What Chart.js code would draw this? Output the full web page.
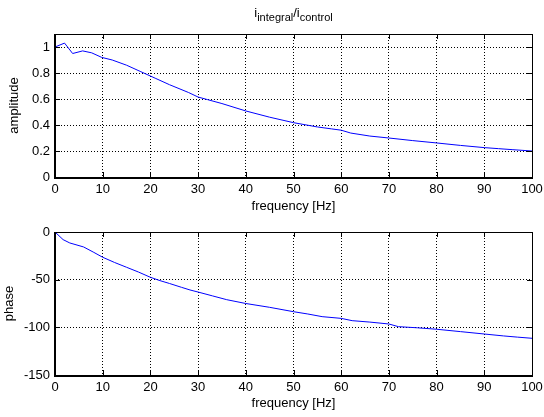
<!DOCTYPE html>
<html>
<head>
<meta charset="utf-8">
<script src="https://cdn.jsdelivr.net/npm/chart.js@4/dist/chart.umd.min.js"></script>
<style>
  html, body { margin: 0; padding: 0; background: #fff; }
  #wrap { position: relative; width: 544px; height: 417px; font-family: "Liberation Sans", Arial, sans-serif; }
  #title { position: absolute; left: 55px; width: 477px; top: 5px; text-align: center; font-size: 13px; line-height: 15px; color: #000; }
  #title sub { font-size: 11px; vertical-align: -4px; line-height: 0; }
  #ampCanvas { position: absolute; left: 0; top: 0; }
  #phaseCanvas { position: absolute; left: 0; top: 214px; }
</style>
</head>
<body>
<div id="wrap">
  <canvas id="ampCanvas" width="544" height="214"></canvas>
  <canvas id="phaseCanvas" width="544" height="203"></canvas>
  <div id="title">i<sub>integral</sub>/i<sub>control</sub></div>
</div>
<script>
// frequency axis ticks
const freqTicks = [0, 10, 20, 30, 40, 50, 60, 70, 80, 90, 100];

// amplitude trace
const ampFreq = [0, 2, 3.7, 5.8, 7.7, 9.8, 12, 15, 18, 21, 24, 26, 28, 30, 32, 35, 40, 45, 50, 55, 58, 60, 62, 66, 70, 75, 80, 85, 90, 93, 96, 100];
const ampValues = [1.0, 1.03, 0.95, 0.97, 0.955, 0.92, 0.90, 0.86, 0.81, 0.76, 0.71, 0.68, 0.65, 0.615, 0.595, 0.565, 0.508, 0.46, 0.418, 0.385, 0.37, 0.36, 0.338, 0.315, 0.30, 0.28, 0.262, 0.243, 0.226, 0.218, 0.21, 0.2];
const ampTicks = [0, 0.2, 0.4, 0.6, 0.8, 1];

// phase trace
const phaseFreq = [0, 1.7, 3.1, 6, 8, 10, 12.5, 15, 17.5, 20, 22, 24, 26.5, 28.3, 30, 33, 36, 40, 45, 50, 53, 56, 60, 62.3, 66, 70, 72, 76, 80, 85, 90, 94, 97, 100];
const phaseValues = [0, -8, -11.5, -15.7, -21, -26.5, -32, -37, -42, -47.5, -51, -54, -58, -60.8, -63, -67, -71, -75, -79, -83.6, -86, -88.8, -90.6, -93, -94.5, -96.5, -99.3, -100.5, -102, -104.5, -107, -109, -110.3, -111.5];
const phaseTicks = [-150, -100, -50, 0];

const fontFamily = '"Liberation Sans", Arial, sans-serif';

// matlab style box with inward tick marks
const boxPlugin = {
  id: 'box',
  afterDraw(chart) {
    const { ctx, chartArea: a, scales } = chart;
    ctx.save();
    ctx.setLineDash([]);
    ctx.strokeStyle = '#000';
    ctx.lineWidth = 1;
    ctx.beginPath();
    scales.x.ticks.forEach(t => {
      const px = Math.round(scales.x.getPixelForValue(t.value)) + 0.5;
      ctx.moveTo(px, a.bottom); ctx.lineTo(px, a.bottom - 5);
      ctx.moveTo(px, a.top); ctx.lineTo(px, a.top + 5);
    });
    scales.y.ticks.forEach(t => {
      const py = Math.round(scales.y.getPixelForValue(t.value)) + 0.5;
      ctx.moveTo(a.left, py); ctx.lineTo(a.left + 5, py);
      ctx.moveTo(a.right, py); ctx.lineTo(a.right - 5, py);
    });
    ctx.stroke();
    ctx.strokeRect(Math.round(a.left) + 0.5, Math.round(a.top) + 0.5, Math.round(a.width), Math.round(a.height));
    ctx.lineWidth = 2;
    ctx.beginPath();
    ctx.moveTo(Math.round(a.left), Math.round(a.top));
    ctx.lineTo(Math.round(a.left), Math.round(a.bottom) + 1);
    ctx.lineTo(Math.round(a.right) + 1, Math.round(a.bottom) + 1);
    ctx.stroke();
    ctx.restore();
  }
};

const makeChart = (id, freq, values, yMin, yMax, yTicks, yLabel, cfg) => {
  const ctx = document.getElementById(id).getContext('2d');
  return new Chart(ctx, {
    type: 'line',
    data: {
      datasets: [{
        data: freq.map((f, i) => ({ x: f, y: values[i] })),
        borderColor: '#0000ff',
        borderWidth: 1,
        pointRadius: 0,
        tension: 0,
        fill: false
      }]
    },
    options: {
      responsive: false,
      animation: false,
      layout: { padding: { top: cfg.padTop, right: 12, left: 0, bottom: 0 } },
      plugins: { legend: { display: false }, tooltip: { enabled: false } },
      scales: {
        x: {
          type: 'linear',
          min: 0,
          max: 100,
          afterBuildTicks: s => { s.ticks = freqTicks.map(v => ({ value: v })); },
          afterFit: s => { s.height = cfg.xHeight; s.paddingLeft = 0; s.paddingRight = 0; },
          ticks: { color: '#000', font: { size: 13, family: fontFamily }, padding: 5, maxRotation: 0, autoSkip: false },
          grid: { color: '#000', drawTicks: false, lineWidth: 1 },
          border: { display: false, dash: [1, 2] },
          title: { display: true, text: 'frequency [Hz]', color: '#000', font: { size: 13, family: fontFamily }, padding: { top: 0, bottom: cfg.xTitlePad } }
        },
        y: {
          type: 'linear',
          min: yMin,
          max: yMax,
          afterBuildTicks: s => { s.ticks = yTicks.map(v => ({ value: v })); },
          afterFit: s => { s.width = 55; s.paddingTop = 0; s.paddingBottom = 0; },
          ticks: {
            color: '#000',
            font: { size: 13, family: fontFamily },
            padding: 5,
            callback: v => String(Number(v.toFixed(2)))
          },
          grid: { color: '#000', drawTicks: false, lineWidth: 1 },
          border: { display: false, dash: [1, 2] },
          title: { display: true, text: yLabel, color: '#000', font: { size: 13, family: fontFamily }, padding: { top: cfg.yTitlePad, bottom: 0 } }
        }
      }
    },
    plugins: [boxPlugin]
  });
};

makeChart('ampCanvas', ampFreq, ampValues, 0, 1.1, ampTicks, 'amplitude', { padTop: 34, xHeight: 37, xTitlePad: 0, yTitlePad: 7 });
makeChart('phaseCanvas', phaseFreq, phaseValues, -150, 0, phaseTicks, 'phase', { padTop: 18, xHeight: 42, xTitlePad: 6, yTitlePad: 2 });
</script>
</body>
</html>
